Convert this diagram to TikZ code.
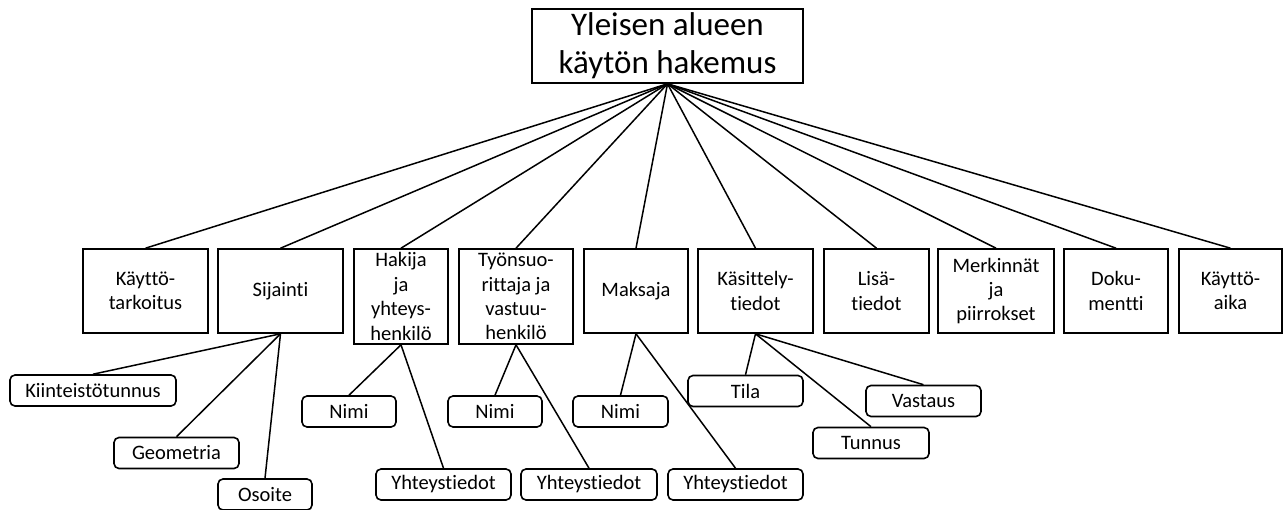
\documentclass[tikz,border=0pt]{standalone}
\usepackage{fontspec}
\setmainfont{Carlito}[Ligatures={NoCommon,NoContextual},RawFeature={-liga;-clig}]
\begin{document}
\begin{tikzpicture}[x=1pt,y=-1pt,
  rootbox/.style={draw,line width=1.6pt,inner sep=0pt,align=center,
    font=\fontsize{33}{38}\selectfont,minimum width=271pt,minimum height=74pt},
  catbox/.style={draw,line width=1.6pt,inner sep=0pt,align=center,
    font=\fontsize{20.5}{24.4}\selectfont,minimum height=84pt},
  tallbox/.style={catbox,minimum height=95pt},
  leaf/.style={draw,line width=1.6pt,rounded corners=5pt,inner sep=0pt,align=center,
    font=\fontsize{20.5}{24.4}\selectfont,minimum height=31pt},
  link/.style={line width=1.5pt}]
\useasboundingbox[fill=white] (0,0) rectangle (1283,509);

% root
\node[rootbox] (root) at (667.5,46) {Yleisen alueen\\käytön hakemus};

% first level
\node[catbox,minimum width=125pt] (kt)  at (145.5,291) {Käyttö-\\tarkoitus};
\node[catbox,minimum width=125pt] (sij) at (280.5,291) {Sijainti};
\node[tallbox,minimum width=94pt] (hak) at (401,296.5) {Hakija\\ja\\yhteys-\\henkilö};
\node[tallbox,minimum width=114pt] (tyo) at (516,296.5) {Työnsuo-\\rittaja ja\\vastuu-\\henkilö};
\node[catbox,minimum width=104pt] (mak) at (636,291) {Maksaja};
\node[catbox,minimum width=115pt] (kas) at (755.5,291) {Käsittely-\\tiedot};
\node[catbox,minimum width=105pt] (lis) at (876.5,291) {Lisä-\\tiedot};
\node[catbox,minimum width=116pt] (mer) at (996,291) {Merkinnät\\ja\\piirrokset};
\node[catbox,minimum width=104pt] (dok) at (1116,291) {Doku-\\mentti};
\node[catbox,minimum width=103pt] (kai) at (1230.5,291) {Käyttö-\\aika};

\foreach \c in {kt,sij,hak,tyo,mak,kas,lis,mer,dok,kai}
  \draw[link] (root.south) -- (\c.north);

% second level
\node[leaf,minimum width=166pt] (kiin) at (93,390.5) {Kiinteistötunnus};
\node[leaf,minimum width=125pt] (geo)  at (176.5,453) {Geometria};
\node[leaf,minimum width=94pt]  (oso)  at (265,494.5) {Osoite};

\node[leaf,minimum width=94pt]  (nimiA) at (349,411.5) {Nimi};
\node[leaf,minimum width=135pt] (yhtA)  at (443.5,484.5) {Yhteystiedot};

\node[leaf,minimum width=94pt]  (nimiB) at (495,411.5) {Nimi};
\node[leaf,minimum width=136pt] (yhtB)  at (589,484.5) {Yhteystiedot};

\node[leaf,minimum width=95pt]  (nimiC) at (620.5,411.5) {Nimi};
\node[leaf,minimum width=135pt] (yhtC)  at (735.5,484.5) {Yhteystiedot};

\node[leaf,minimum width=115pt] (tila)   at (745.5,391) {Tila};
\node[leaf,minimum width=116pt] (tunnus) at (871,443) {Tunnus};
\node[leaf,minimum width=115pt] (vast)   at (923.5,401) {Vastaus};

\foreach \c in {kiin,geo,oso} \draw[link] (sij.south) -- (\c.north);
\foreach \c in {nimiA,yhtA} \draw[link] (hak.south) -- (\c.north);
\foreach \c in {nimiB,yhtB} \draw[link] (tyo.south) -- (\c.north);
\foreach \c in {nimiC,yhtC} \draw[link] (mak.south) -- (\c.north);
\foreach \c in {tila,tunnus,vast} \draw[link] (kas.south) -- (\c.north);
\end{tikzpicture}
\end{document}
